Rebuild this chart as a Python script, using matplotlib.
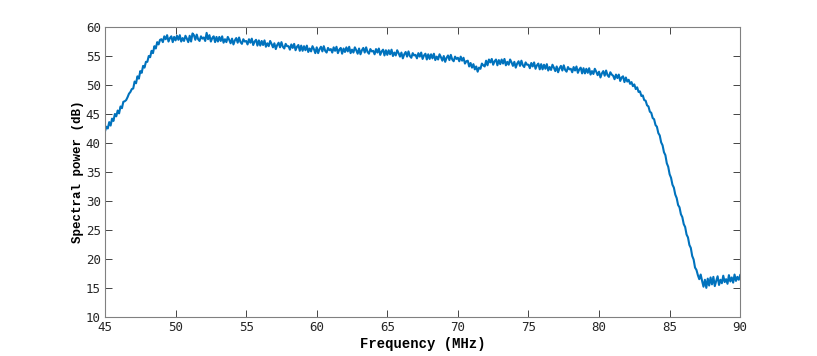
import numpy as np
import matplotlib
matplotlib.use("Agg")
import matplotlib.pyplot as plt

# Frequencia de 45 a 90 MHz em passos de 0.1 MHz
freq_start, freq_stop, freq_step = 45.0, 90.0, 0.1

# Potencia espectral (dB), uma linha por MHz
power_db = [
    42.0, 42.8, 42.5, 43.6, 43.0, 44.2, 43.8, 45.0, 44.6, 45.6,  # 45
    45.1, 46.3, 46.0, 47.1, 47.2, 47.4, 47.9, 48.5, 48.8, 49.3,  # 46
    49.4, 50.6, 50.3, 51.5, 51.1, 52.4, 52.1, 53.3, 53.0, 54.0,  # 47
    54.0, 55.0, 54.8, 55.9, 55.5, 56.7, 56.3, 57.4, 57.0, 57.8,  # 48
    57.9, 57.4, 58.4, 57.9, 58.6, 57.5, 58.1, 58.4, 57.4, 58.3,  # 49
    57.7, 58.5, 57.8, 58.6, 57.5, 58.1, 57.6, 58.5, 58.0, 57.4,  # 50
    58.5, 57.5, 58.9, 58.6, 57.8, 58.7, 57.9, 57.6, 58.4, 58.0,  # 51
    58.2, 57.6, 59.0, 57.9, 58.6, 57.5, 58.1, 58.4, 57.4, 58.3,  # 52
    57.5, 58.3, 57.6, 58.4, 57.3, 57.9, 57.4, 58.3, 57.8, 57.2,  # 53
    58.0, 57.0, 57.7, 58.1, 57.3, 58.2, 57.4, 57.1, 57.9, 57.5,  # 54
    57.6, 57.0, 57.9, 57.3, 58.0, 56.9, 57.5, 57.8, 56.8, 57.7,  # 55
    56.8, 57.6, 56.9, 57.7, 56.6, 57.2, 56.7, 57.6, 57.1, 56.5,  # 56
    57.2, 56.2, 56.9, 57.3, 56.5, 57.4, 56.6, 56.3, 57.1, 56.7,  # 57
    56.7, 56.1, 57.0, 56.4, 57.1, 56.0, 56.6, 56.9, 55.9, 56.8,  # 58
    55.9, 56.7, 56.0, 56.8, 55.7, 56.3, 55.8, 56.7, 56.2, 55.5,  # 59
    56.5, 55.5, 56.2, 56.6, 55.8, 56.7, 55.9, 55.6, 56.4, 56.0,  # 60
    56.2, 55.6, 56.5, 55.9, 56.6, 55.5, 56.1, 56.4, 55.4, 56.3,  # 61
    55.7, 56.5, 55.8, 56.6, 55.5, 56.1, 55.6, 56.5, 56.0, 55.4,  # 62
    56.3, 55.3, 56.0, 56.4, 55.6, 56.5, 55.7, 55.4, 56.2, 55.8,  # 63
    55.9, 55.3, 56.2, 55.6, 56.3, 55.2, 55.8, 56.1, 55.1, 56.0,  # 64
    55.2, 56.0, 55.3, 56.1, 55.0, 55.6, 55.1, 56.0, 55.5, 54.9,  # 65
    55.6, 54.6, 55.3, 55.7, 54.9, 55.8, 55.0, 54.7, 55.5, 55.1,  # 66
    55.2, 54.6, 55.5, 54.9, 55.6, 54.5, 55.1, 55.4, 54.4, 55.3,  # 67
    54.5, 55.3, 54.6, 55.4, 54.3, 54.9, 54.4, 55.3, 54.8, 54.2,  # 68
    55.0, 54.0, 54.7, 55.1, 54.3, 55.2, 54.4, 54.1, 54.9, 54.5,  # 69
    54.7, 54.1, 54.9, 54.2, 54.7, 53.7, 54.1, 54.2, 53.2, 53.8,  # 70
    53.0, 53.6, 52.7, 53.2, 52.3, 53.0, 52.8, 53.7, 53.4, 53.2,  # 71
    54.2, 53.4, 54.4, 53.9, 54.5, 53.5, 54.1, 54.4, 53.4, 54.3,  # 72
    53.6, 54.4, 53.7, 54.5, 53.4, 54.0, 53.5, 54.4, 53.9, 53.3,  # 73
    54.0, 53.0, 53.7, 54.1, 53.3, 54.2, 53.4, 53.1, 53.9, 53.5,  # 74
    53.5, 52.9, 53.8, 53.2, 53.9, 52.8, 53.4, 53.7, 52.7, 53.6,  # 75
    52.7, 53.5, 52.8, 53.6, 52.5, 53.1, 52.6, 53.5, 53.0, 52.4,  # 76
    53.2, 52.2, 52.9, 53.3, 52.5, 53.4, 52.6, 52.3, 53.1, 52.7,  # 77
    52.8, 52.2, 53.1, 52.5, 53.2, 52.1, 52.7, 53.0, 52.0, 52.9,  # 78
    52.0, 52.8, 52.1, 52.9, 51.8, 52.4, 51.9, 52.8, 52.3, 51.7,  # 79
    52.3, 51.3, 52.0, 52.4, 51.6, 52.5, 51.7, 51.4, 52.2, 51.8,  # 80
    51.6, 51.0, 51.8, 51.2, 51.8, 50.7, 51.3, 51.5, 50.5, 51.3,  # 81
    50.6, 50.9, 50.2, 50.5, 49.8, 50.1, 49.3, 49.6, 48.8, 48.9,  # 82
    48.1, 48.2, 47.4, 47.3, 46.5, 46.3, 45.4, 45.2, 44.3, 44.1,  # 83
    43.1, 42.8, 41.7, 41.3, 40.1, 39.6, 38.4, 37.9, 36.5, 35.9,  # 84
    34.6, 34.0, 32.8, 32.3, 31.1, 30.5, 29.3, 28.9, 27.7, 27.2,  # 85
    26.0, 25.5, 24.2, 23.7, 22.4, 21.9, 20.5, 19.9, 18.5, 18.1,  # 86
    17.2, 16.5, 17.3, 16.2, 15.2, 16.4, 15.0, 16.6, 15.4, 16.8,  # 87
    15.6, 16.9, 15.3, 16.2, 17.0, 15.5, 16.4, 15.8, 17.1, 16.0,  # 88
    16.5, 15.7, 17.2, 16.1, 16.8, 15.9, 17.3, 16.2, 16.9, 16.4,  # 89
    17.2,                                                        # 90
]

freq_mhz = np.linspace(freq_start, freq_stop, len(power_db))

fig = plt.figure(figsize=(8.17, 3.56), dpi=100)
ax = fig.add_axes([0.1285, 0.110, 0.7775, 0.814])
ax.plot(freq_mhz, power_db, color="#0072BD", linewidth=1.5)

ax.set_xlim(45, 90)
ax.set_ylim(10, 60)
ax.set_xticks(np.arange(45, 91, 5))
ax.set_yticks(np.arange(10, 61, 5))

ax.set_xlabel("Frequency (MHz)", family="Liberation Mono", fontweight="bold", fontsize=10, labelpad=2)
ax.set_ylabel("Spectral power (dB)", family="Liberation Mono", fontweight="bold", fontsize=9, labelpad=1)

ax.tick_params(direction="in", length=5, width=0.6, top=True, right=True,
               colors="#262626", labelsize=9, pad=3)
for lbl in ax.get_xticklabels() + ax.get_yticklabels():
    lbl.set_family("DejaVu Sans Mono")
for s in ax.spines.values():
    s.set_color("#808080")
    s.set_linewidth(0.8)

fig.savefig("out.png", dpi=100)
